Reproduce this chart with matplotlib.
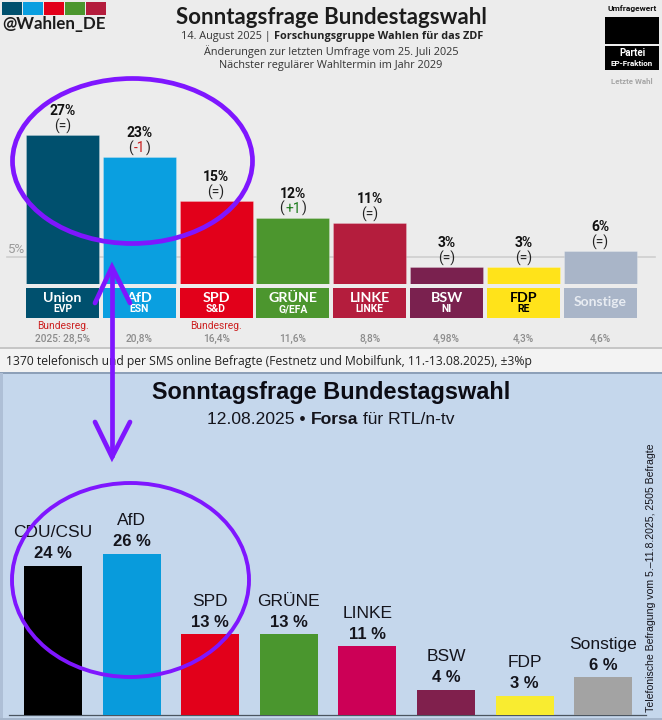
#!/usr/bin/env python3
"""Two stacked poll charts (ZDF / Forsa) with hand-drawn purple marks on top."""
import matplotlib
matplotlib.use("Agg")
import matplotlib.pyplot as plt
from matplotlib.patches import Ellipse, Rectangle

W, H = 662, 720

# top chart: Forschungsgruppe Wahlen
TOP_PARTIES = ["Union", "AfD", "SPD", "GRÜNE", "LINKE", "BSW", "FDP", "Sonstige"]
TOP_FRACTIONS = ["EVP", "ESN", "S&D", "G/EFA", "LINKE", "NI", "RE", ""]
TOP_VALUES = [27, 23, 15, 12, 11, 3, 3, 6]
TOP_CHANGES = ["=", "-1", "=", "+1", "=", "=", "=", "="]
TOP_LAST = ["2025: 28,5%", "20,8%", "16,4%", "11,6%", "8,8%", "4,98%", "4,3%", "4,6%"]
TOP_GOV = ["Bundesreg.", "", "Bundesreg.", "", "", "", "", ""]
TOP_COLORS = ["#00506e", "#0a9fe0", "#e2001a", "#4c962e", "#b41d3d", "#7a214f", "#ffe31a", "#a9b5c8"]

# bottom chart: Forsa
BOT_PARTIES = ["CDU/CSU", "AfD", "SPD", "GRÜNE", "LINKE", "BSW", "FDP", "Sonstige"]
BOT_VALUES = [24, 26, 13, 13, 11, 4, 3, 6]
BOT_COLORS = ["#000000", "#089bdc", "#e2001a", "#4a962e", "#cc0056", "#80204d", "#f9ec30", "#a3a3a3"]

LOGO_COLORS = TOP_COLORS[:5]
C_MARK = "#7f16ff"
C_TOP_BG = "#ececec"
C_BOT_BG = "#c5d7ec"
HEAD = "Lato"
BODY = "Open Sans"
NUM = "Roboto"
ARIAL = "Liberation Sans"


def axes_px(fig, x0, y0, x1, y1):
    # axes from pixel box, y counted from the top of the image
    return fig.add_axes([x0 / W, 1 - y1 / H, (x1 - x0) / W, (y1 - y0) / H])


def off(px):
    return px * 0.72  # px -> points at dpi 100


fig = plt.figure(figsize=(W / 100, H / 100), dpi=100, facecolor=C_TOP_BG)

# pixel overlay for panels and decoration
bg = fig.add_axes([0, 0, 1, 1], zorder=0)
bg.set_xlim(0, W); bg.set_ylim(H, 0); bg.axis("off")
bg.add_patch(Rectangle((0, 349), W, 24, fc="#f3f3f3", ec="none"))
bg.add_patch(Rectangle((0, 346.5), W, 2, fc="#c6c6c6", ec="none"))
bg.add_patch(Rectangle((0, 372), W, 348, fc=C_BOT_BG, ec="none"))
bg.add_patch(Rectangle((0, 372), W, 1.5, fc="#8da0b8", ec="none"))
bg.add_patch(Rectangle((0, 373), 3, 347, fc="#aebfd6", ec="none"))
bg.add_patch(Rectangle((0, 717.5), W, 2.5, fc="#a5b6cc", ec="none"))
bg.plot([7, 655], [257, 257], color="#cfcfcf", lw=1.2)
bg.text(8, 249.5, "5%", fontsize=9.5, color="#9a9a9a", family=NUM, ha="left", va="center")

# ---- top bars ----
PITCH_T, X0_T = 76.8, 62.5
ax = axes_px(fig, 0, 90, W, 284)
ax.set_zorder(1); ax.patch.set_alpha(0); ax.axis("off")
ax.set_xlim(-X0_T / PITCH_T, (W - X0_T) / PITCH_T)
ax.set_ylim(0, 194 / 5.52)
xs = list(range(len(TOP_VALUES)))
ax.bar(xs, TOP_VALUES, width=0.95, color=TOP_COLORS, edgecolor="#ffffff50", linewidth=0.5)
for i, v in enumerate(TOP_VALUES):
    ax.annotate(f"{v}%", (i, v), textcoords="offset points", xytext=(0, off(24)),
                ha="center", va="center", fontsize=10, fontweight="bold", family=NUM, color="#111111")
    ch = TOP_CHANGES[i]
    if ch == "=":
        ax.annotate("(=)", (i, v), textcoords="offset points", xytext=(0, off(9)),
                    ha="center", va="center", fontsize=10, family=NUM, color="#222222")
    else:
        d = 11 if ch[0] == "+" else 9
        c = "#1b7a1b" if ch[0] == "+" else "#c81e1e"
        ax.annotate(ch, (i, v), textcoords="offset points", xytext=(0, off(9)),
                    ha="center", va="center", fontsize=10, family=NUM, color=c)
        ax.annotate("(", (i, v), textcoords="offset points", xytext=(off(-d), off(9)),
                    ha="center", va="center", fontsize=10, family=NUM, color="#222222")
        ax.annotate(")", (i, v), textcoords="offset points", xytext=(off(d), off(9)),
                    ha="center", va="center", fontsize=10, family=NUM, color="#222222")

# tiles and the texts under the bars
for i in xs:
    cx = X0_T + PITCH_T * i
    bg.add_patch(Rectangle((cx - 36.5, 288), 73, 29.5, fc=TOP_COLORS[i], ec="none"))
    tc = "#000000" if TOP_PARTIES[i] == "FDP" else "#ffffff"
    if TOP_FRACTIONS[i]:
        bg.text(cx, 298, TOP_PARTIES[i], fontsize=10.3, fontweight="bold", family=HEAD,
                color=tc, ha="center", va="center")
        bg.text(cx, 309.5, TOP_FRACTIONS[i], fontsize=7.5, fontweight="bold", family=NUM,
                color=tc, ha="center", va="center")
    else:
        bg.text(cx, 302.5, TOP_PARTIES[i], fontsize=10, fontweight="bold", family=HEAD,
                color="#e8ecf2", ha="center", va="center")
    if TOP_GOV[i]:
        bg.text(cx, 326, TOP_GOV[i], fontsize=7.4, family=NUM, color="#cc2222",
                ha="center", va="center")
    bg.text(cx, 339, TOP_LAST[i], fontsize=7.3, family=NUM, color="#8c8c8c", fontweight="medium",
            ha="center", va="center")

# top header
bg.text(331, 18, "Sonntagsfrage Bundestagswahl", fontsize=16, fontweight="bold", family=HEAD,
        color="#1c1c1c", ha="center", va="center")
t = bg.text(181, 37, "14. August 2025 | ", fontsize=7.8, family=BODY, color="#333333", va="center")
bg.annotate("Forschungsgruppe Wahlen für das ZDF", xy=(1, 0.5), xycoords=t, va="center",
            fontsize=7.8, family=BODY, fontweight="bold", color="#222222")
bg.text(331, 51.5, "Änderungen zur letzten Umfrage vom 25. Juli 2025", fontsize=7.8, family=BODY,
        color="#333333", ha="center", va="center")
bg.text(331, 65.5, "Nächster regulärer Wahltermin im Jahr 2029", fontsize=7.8, family=BODY,
        color="#333333", ha="center", va="center")

# logo
for i, c in enumerate(LOGO_COLORS):
    bg.add_patch(Rectangle((2 + 21 * i, 2), 20, 13, fc=c, ec="none"))
bg.text(2, 24.5, "@Wahlen_DE", fontsize=12.2, fontweight="bold", family=HEAD, color="#1c1c1c",
        ha="left", va="center")

# legend block
bg.text(632, 9, "Umfragewert", fontsize=6, fontweight="bold", family=NUM, color="#111111",
        ha="center", va="center")
bg.add_patch(Rectangle((605, 17), 54, 27, fc="#000000", ec="none"))
bg.add_patch(Rectangle((605, 46), 54, 24, fc="#000000", ec="none"))
bg.text(632, 53, "Partei", fontsize=7, fontweight="bold", family=NUM, color="#ffffff",
        ha="center", va="center")
bg.text(632, 64, "EP-Fraktion", fontsize=5.8, fontweight="bold", family=NUM, color="#ffffff",
        ha="center", va="center")
bg.text(632, 82, "Letzte Wahl", fontsize=5.7, fontweight="bold", family=NUM, color="#a6a6a6",
        ha="center", va="center")

bg.text(6, 361, "1370 telefonisch und per SMS online Befragte (Festnetz und Mobilfunk, "
        "11.-13.08.2025), ±3%p", fontsize=8.75, family=BODY, color="#222222", ha="left", va="center")

# ---- bottom bars ----
PITCH_B, X0_B = 78.6, 53
ax2 = axes_px(fig, 0, 480, W, 714.5)
ax2.set_zorder(1); ax2.patch.set_alpha(0); ax2.axis("off")
ax2.set_xlim(-X0_B / PITCH_B, (W - X0_B) / PITCH_B)
ax2.set_ylim(0, 234.5 / 6.19)
xb = list(range(len(BOT_VALUES)))
ax2.bar(xb, BOT_VALUES, width=58 / PITCH_B, color=BOT_COLORS)
for i, v in enumerate(BOT_VALUES):
    ax2.annotate(BOT_PARTIES[i], (i, v), textcoords="offset points", xytext=(0, off(33)),
                 ha="center", va="center", fontsize=12.5, family=ARIAL, color="#14141c")
    ax2.annotate(f"{v} %", (i, v), textcoords="offset points", xytext=(0, off(12)),
                 ha="center", va="center", fontsize=12, fontweight="bold", family=ARIAL,
                 color="#14141c")
bg.plot([9, 646], [714.5, 714.5], color="#4a5560", lw=0.9)

bg.text(331, 392, "Sonntagsfrage Bundestagswahl", fontsize=16.9, fontweight="bold", family=ARIAL,
        color="#0c0c14", ha="center", va="center")
t = bg.text(207, 419, "12.08.2025 • ", fontsize=12.6, family=ARIAL, color="#14141c", va="center")
t = bg.annotate("Forsa", xy=(1, 0.5), xycoords=t, va="center", fontsize=12.6, family=ARIAL,
                fontweight="bold", color="#14141c")
bg.annotate(" für RTL/n-tv", xy=(1, 0.5), xycoords=t, va="center", fontsize=12.6, family=ARIAL,
            color="#14141c")
bg.text(651, 578, "Telefonische Befragung vom 5.–11.8.2025, 2505 Befragte", rotation=90, fontsize=7.6,
        family=ARIAL, color="#14141c", ha="center", va="center")

# ---- purple marks over everything ----
top = fig.add_axes([0, 0, 1, 1], zorder=5)
top.set_xlim(0, W); top.set_ylim(H, 0); top.axis("off"); top.patch.set_alpha(0)
top.add_patch(Ellipse((132.5, 161), 240, 165, fc="none", ec=C_MARK, lw=3.4))
top.add_patch(Ellipse((130.5, 580), 237, 194, fc="none", ec=C_MARK, lw=2.8))
top.plot([112, 112], [268, 456], color=C_MARK, lw=3.4, solid_capstyle="round")
top.plot([95, 112, 130], [303, 267, 303], color=C_MARK, lw=3.4, solid_capstyle="round", solid_joinstyle="miter")
top.plot([95, 112, 130], [422, 457, 422], color=C_MARK, lw=3.4, solid_capstyle="round", solid_joinstyle="miter")

fig.savefig("out.png", dpi=100, facecolor=fig.get_facecolor())
